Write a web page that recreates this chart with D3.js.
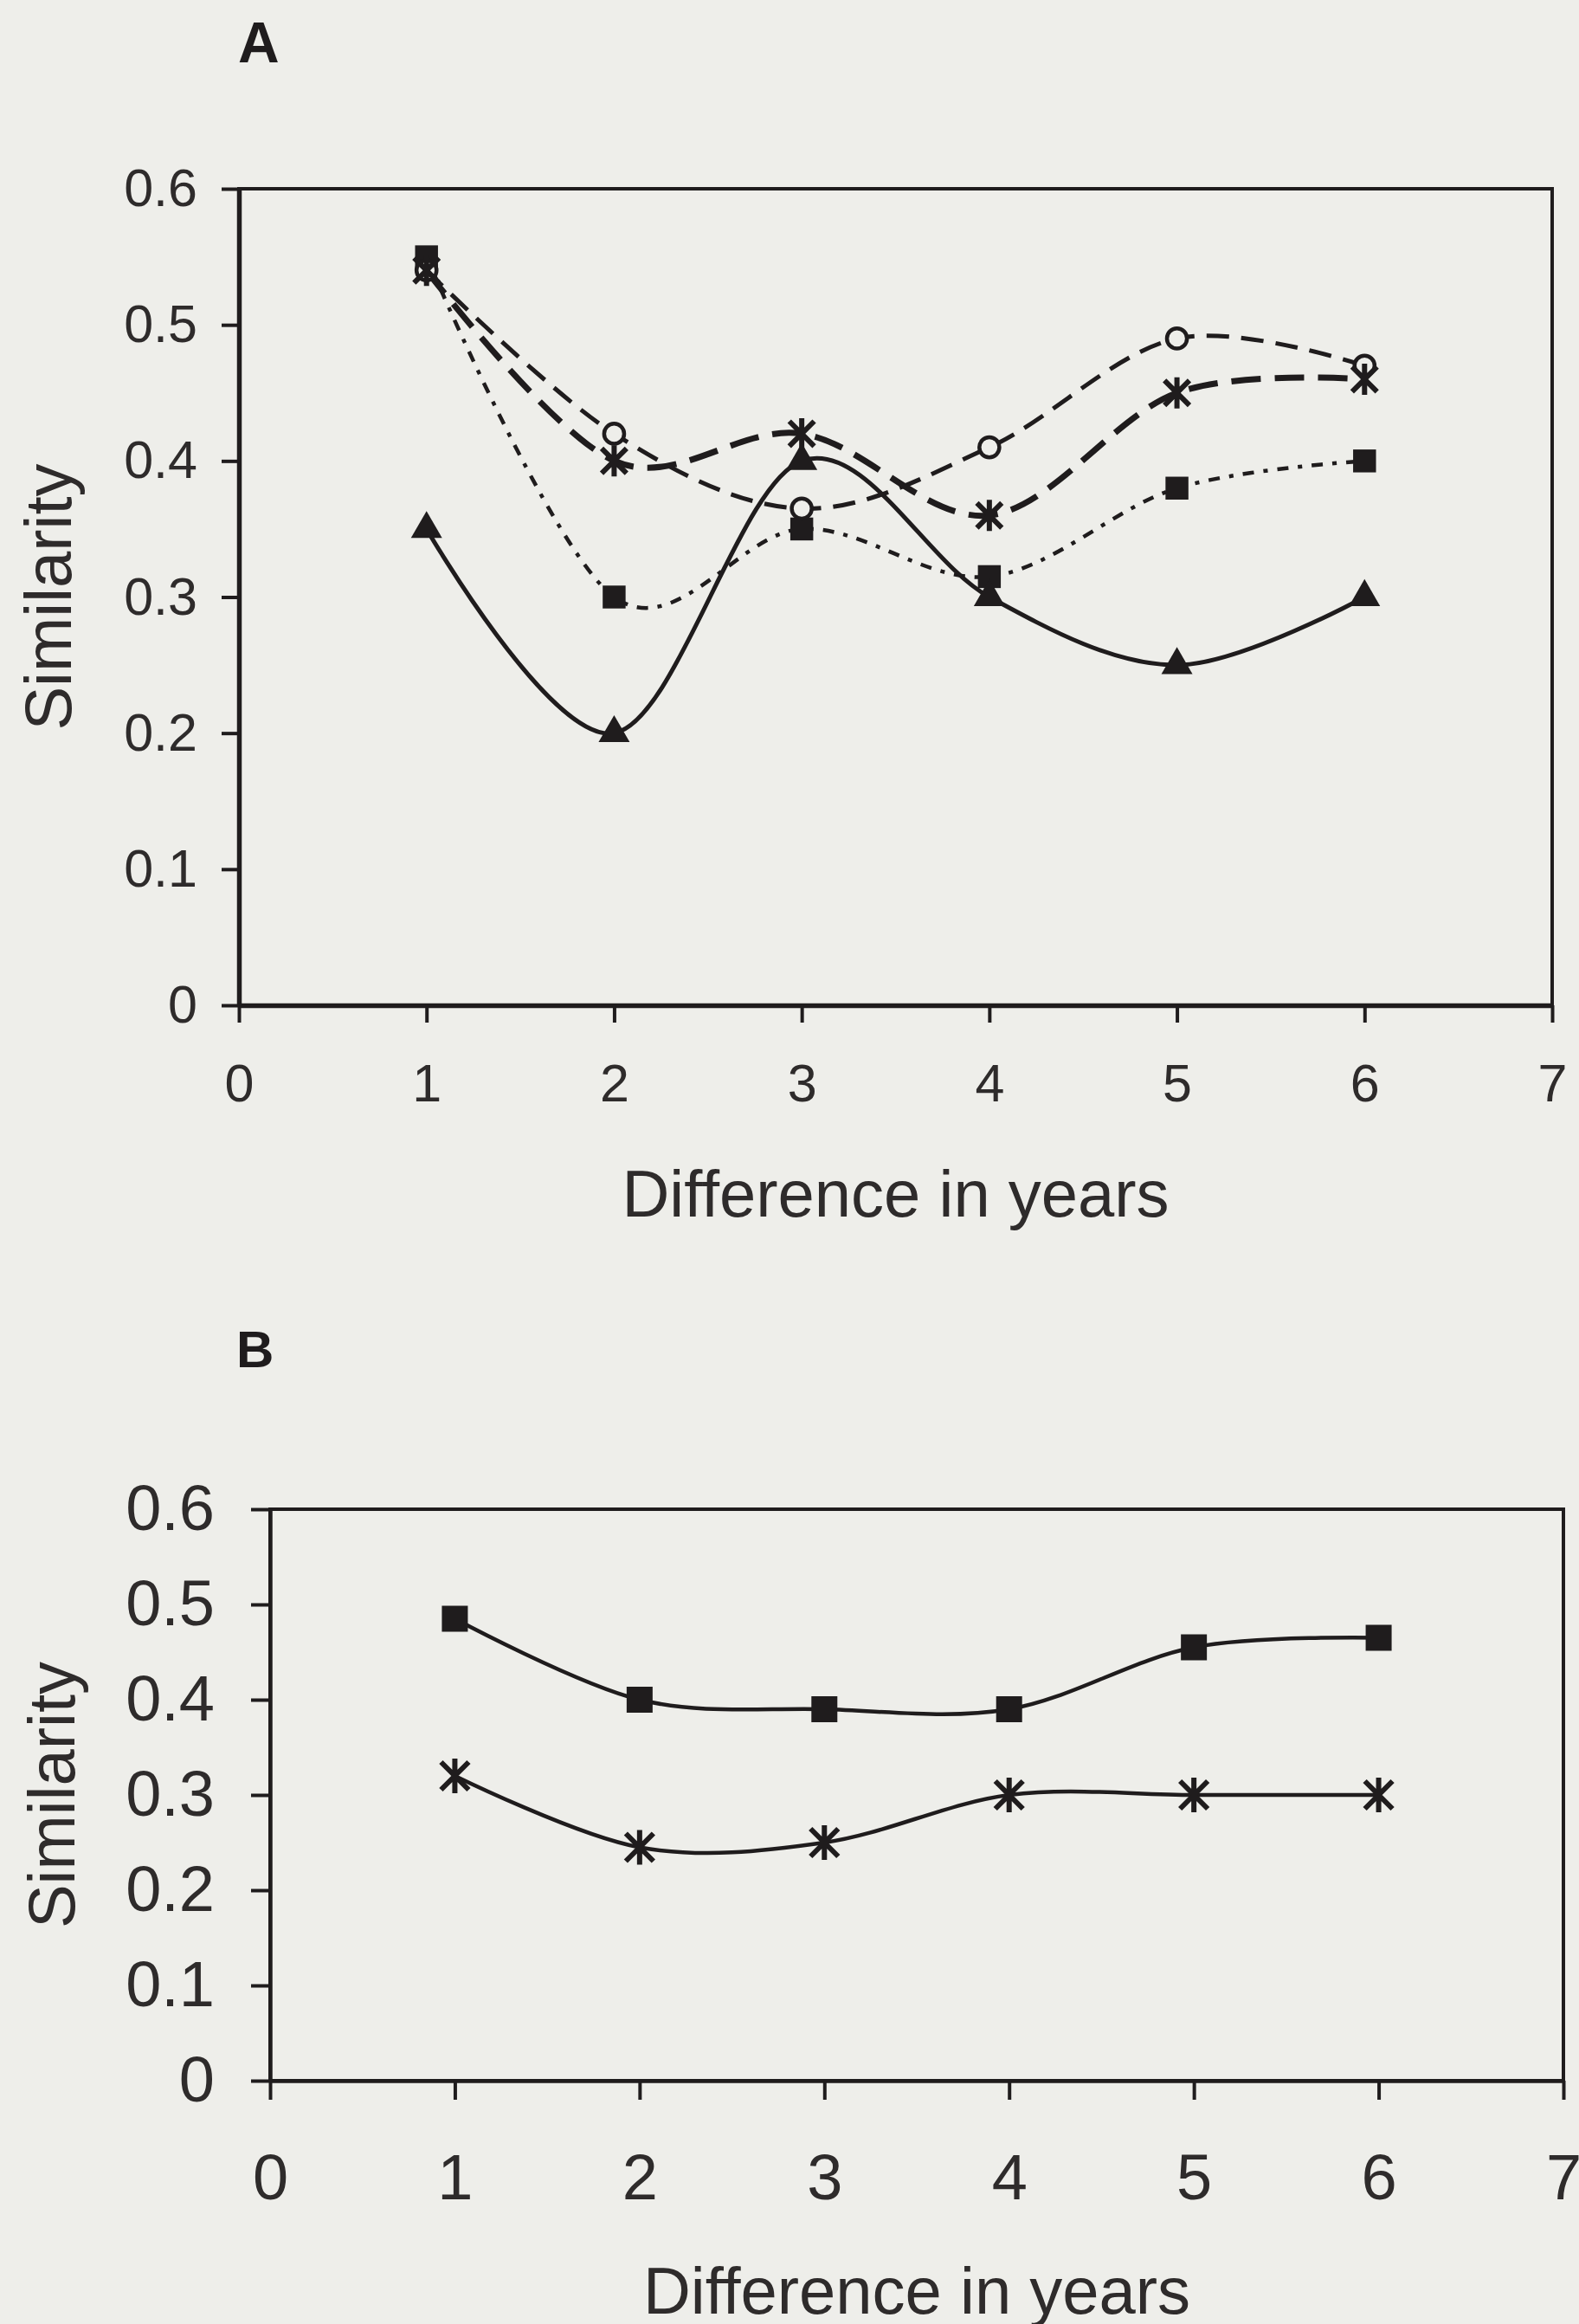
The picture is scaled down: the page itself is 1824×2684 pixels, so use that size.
<!DOCTYPE html>
<html>
<head>
<meta charset="utf-8">
<script src="https://cdn.jsdelivr.net/npm/d3@7"></script>
<style>
  html, body { margin: 0; padding: 0; background: #eeeeea; }
  svg { display: block; }
</style>
</head>
<body>
<div id="chart"></div>
<script>
// x categories and ticks
const years = [1, 2, 3, 4, 5, 6];
const xTicks = [0, 1, 2, 3, 4, 5, 6, 7];
const yTicks = [0, 0.1, 0.2, 0.3, 0.4, 0.5, 0.6];

// panel A series
const aTriangle = [0.35, 0.20, 0.40, 0.30, 0.25, 0.30];
const aSquare   = [0.55, 0.30, 0.35, 0.315, 0.38, 0.40];
const aCircle   = [0.54, 0.42, 0.365, 0.41, 0.49, 0.47];
const aAsterisk = [0.54, 0.40, 0.42, 0.36, 0.45, 0.46];

// panel B series
const bSquare   = [0.485, 0.40, 0.39, 0.39, 0.455, 0.465];
const bAsterisk = [0.32, 0.245, 0.25, 0.30, 0.30, 0.30];

const ink = '#1f1c1d';
const textInk = '#2e2b2b';
const paper = '#eeeeea';
const font = '"Liberation Sans", Arial, sans-serif';

const svg = d3.select('#chart')
  .append('svg')
    .attr('width', 1824)
    .attr('height', 2684);

svg.append('rect')
  .attr('width', 1824)
  .attr('height', 2684)
  .attr('fill', paper);

// excel style asterisk: an X with a vertical bar
function asterisk(r) {
  const a = r * 0.8;
  return `M0,${-r}L0,${r}M${-a},${-a}L${a},${a}M${-a},${a}L${a},${-a}`;
}

function drawPanel(p) {
  const x = d3.scaleLinear().domain([0, 7]).range([p.left, p.right]);
  const y = d3.scaleLinear().domain([0, 0.6]).range([p.bottom, p.top]);

  const g = svg.append('g').attr('font-family', font);

  // panel letter
  g.append('text')
    .attr('x', p.letterX)
    .attr('y', p.letterY)
    .attr('font-size', p.letterSize)
    .attr('font-weight', 'bold')
    .attr('fill', ink)
    .text(p.letter);

  // box (top + right)
  g.append('rect')
    .attr('x', p.left)
    .attr('y', p.top)
    .attr('width', p.right - p.left)
    .attr('height', p.bottom - p.top)
    .attr('fill', 'none')
    .attr('stroke', ink)
    .attr('stroke-width', 4);

  // axes
  const yAxis = g.append('g')
    .attr('transform', `translate(${p.left},0)`)
    .call(d3.axisLeft(y)
      .tickValues(yTicks)
      .tickFormat(d => d === 0 ? '0' : d.toFixed(1))
      .tickSize(p.tickLen)
      .tickSizeOuter(0)
      .tickPadding(p.yPad));

  const xAxis = g.append('g')
    .attr('transform', `translate(0,${p.bottom})`)
    .call(d3.axisBottom(x)
      .tickValues(xTicks)
      .tickFormat(d3.format('d'))
      .tickSize(p.tickLen)
      .tickSizeOuter(0)
      .tickPadding(p.xPad));

  [yAxis, xAxis].forEach(a => {
    a.select('.domain').attr('stroke', ink).attr('stroke-width', p.axisWidth);
    a.selectAll('.tick line').attr('stroke', ink).attr('stroke-width', 4);
    a.selectAll('.tick text')
      .attr('fill', textInk)
      .attr('font-size', p.tickFont)
      .attr('font-family', font);
  });

  // axis titles
  g.append('text')
    .attr('x', (p.left + p.right) / 2)
    .attr('y', p.xTitleY)
    .attr('text-anchor', 'middle')
    .attr('font-size', 76)
    .attr('fill', textInk)
    .text('Difference in years');

  g.append('text')
    .attr('transform', `translate(${p.yTitleX},${(p.top + p.bottom) / 2}) rotate(-90)`)
    .attr('text-anchor', 'middle')
    .attr('font-size', 76)
    .attr('fill', textInk)
    .text('Similarity');

  const line = d3.line()
    .x((d, i) => x(years[i]))
    .y(d => y(d))
    .curve(d3.curveCardinal.tension(0));

  p.series.forEach(s => {
    g.append('path')
      .datum(s.values)
      .attr('d', line)
      .attr('fill', 'none')
      .attr('stroke', ink)
      .attr('stroke-width', s.width)
      .attr('stroke-dasharray', s.dash)
      .attr('stroke-linecap', 'butt');
  });

  p.series.forEach(s => {
    const pts = g.append('g').selectAll('path')
      .data(s.values)
      .join('path')
        .attr('transform', (d, i) => `translate(${x(years[i])},${y(d)})`);

    if (s.marker === 'triangle') {
      pts.attr('d', d3.symbol(d3.symbolTriangle, s.size)).attr('fill', ink);
    } else if (s.marker === 'square') {
      pts.attr('d', d3.symbol(d3.symbolSquare, s.size)).attr('fill', ink);
    } else if (s.marker === 'circle') {
      pts.attr('d', d3.symbol(d3.symbolCircle, s.size))
        .attr('fill', paper).attr('stroke', ink).attr('stroke-width', 4.5);
    } else {
      pts.attr('d', asterisk(s.size))
        .attr('fill', 'none').attr('stroke', ink).attr('stroke-width', 6);
    }
  });
}

drawPanel({
  left: 276, right: 1793, top: 218, bottom: 1161,
  letter: 'A', letterX: 275, letterY: 72, letterSize: 66,
  tickFont: 61, tickLen: 20, yPad: 28, xPad: 48, axisWidth: 5.5,
  xTitleY: 1405, yTitleX: 82,
  series: [
    { values: aSquare,   marker: 'square',   size: 700, width: 4.5, dash: '13,11,5,11' },
    { values: aCircle,   marker: 'circle',   size: 420, width: 5,   dash: '26,14' },
    { values: aAsterisk, marker: 'asterisk', size: 18,  width: 7,   dash: '34,16' },
    { values: aTriangle, marker: 'triangle', size: 560, width: 5,   dash: null }
  ]
});

drawPanel({
  left: 312, right: 1806, top: 1743, bottom: 2403,
  letter: 'B', letterX: 273, letterY: 1579, letterSize: 60,
  tickFont: 74, tickLen: 22, yPad: 42, xPad: 62, axisWidth: 4.5,
  xTitleY: 2672, yTitleX: 86,
  series: [
    { values: bSquare,   marker: 'square',   size: 900, width: 4.5, dash: null },
    { values: bAsterisk, marker: 'asterisk', size: 20,  width: 4.5, dash: null }
  ]
});
</script>
</body>
</html>
